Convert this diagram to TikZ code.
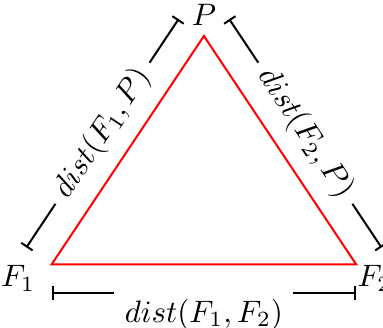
\documentclass[tikz,border=0pt]{standalone}
\usetikzlibrary{arrows.meta,calc}

\begin{document}
\begin{tikzpicture}[
  every node/.style={scale=1.16},
  tri/.style={draw=red,line width=0.75pt},
  dim/.style={{Bar[width=1.8mm]}-{Bar[width=1.8mm]},line width=0.75pt},
  lbl/.style={fill=white}
]
\useasboundingbox (-0.679,-0.824) rectangle (4.353,3.473);
\coordinate (F1) at (0,0);
\coordinate (F2) at (4,0);
\coordinate (P) at (2,3);
\draw[tri] (F1) -- (F2) -- (P) -- cycle;
\node[above] (lP) at (P) {$P$};
\node[anchor=base east,inner sep=0pt] (lF1) at ($(F1)+(-0.21,-0.29)$) {$F_1$};
\node[anchor=base west,inner sep=0pt] (lF2) at ($(F2)+(0.01,-0.29)$) {$F_2$};
% dimension ends
\coordinate (a1) at ($(F1)!0.4cm!90:(P)$);
\coordinate (a2) at ($(P)!0.4cm!-90:(F1)$);
\coordinate (b1) at ($(P)!0.4cm!90:(F2)$);
\coordinate (b2) at ($(F2)!0.4cm!-90:(P)$);
\coordinate (c1) at ($(F1)+(0,-0.38)$);
\coordinate (c2) at ($(F2)+(0,-0.38)$);
\draw[dim] (a1) -- node[lbl,midway,sloped] (d1) {$dist(F_1,P)$} (a2);
\draw[dim] (b1) -- node[lbl,midway,sloped] (d2) {$dist(F_2,P)$} (b2);
\draw[dim] (c1) -- node[lbl,midway,yshift=-0.24cm] (d3) {$dist(F_1,F_2)$} (c2);
\end{tikzpicture}
\end{document}
